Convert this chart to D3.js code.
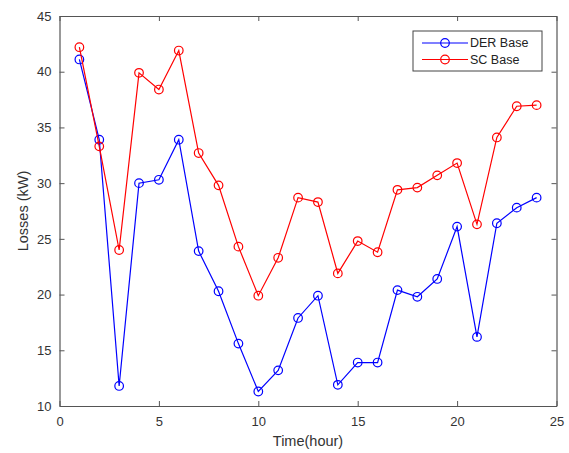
<!DOCTYPE html>
<html><head><meta charset="utf-8">
<script src="https://cdn.jsdelivr.net/npm/d3@7"></script>
<style>body{margin:0;background:#fff}svg{display:block}text{font-family:"Liberation Sans",Arial,sans-serif}</style>
</head><body>
<script>
const hours = d3.range(1, 25);
const derBase = [41.1,33.9,11.8,30.0,30.3,33.9,23.9,20.3,15.6,11.3,13.2,17.9,19.9,11.9,13.9,13.9,20.4,19.8,21.4,26.1,16.2,26.4,27.8,28.7];
const scBase  = [42.2,33.3,24.0,39.9,38.4,41.9,32.7,29.8,24.3,19.9,23.3,28.7,28.3,21.9,24.8,23.8,29.4,29.6,30.7,31.8,26.3,34.1,36.9,37.0];
const xTicks = [0,5,10,15,20,25];
const yTicks = [10,15,20,25,30,35,40,45];
const seriesNames = ["DER Base","SC Base"];
const seriesColors = ["#0000ff","#ff0000"];

const W = 569, H = 453;
const m = {l:59.5, r:12.5, t:16, b:47};
const svg = d3.select("body").append("svg").attr("width",W).attr("height",H);
const x = d3.scaleLinear().domain([0,25]).range([m.l, W-m.r]);
const y = d3.scaleLinear().domain([10,45]).range([H-m.b, m.t]);
const axisCol = "#555";

const g = svg.append("g");
const ax = (gen) => gen.tickSizeInner(-5).tickSizeOuter(0).tickPadding(8);
const axBottom = g.append("g").attr("transform",`translate(0,${y(10)})`).call(ax(d3.axisBottom(x).tickValues(xTicks)));
const axLeft = g.append("g").attr("transform",`translate(${x(0)},0)`).call(ax(d3.axisLeft(y).tickValues(yTicks)));
const axTop = g.append("g").attr("transform",`translate(0,${y(45)})`).call(ax(d3.axisTop(x).tickValues(xTicks)).tickFormat(""));
const axRight = g.append("g").attr("transform",`translate(${x(25)},0)`).call(ax(d3.axisRight(y).tickValues(yTicks)).tickFormat(""));
[axBottom,axLeft,axTop,axRight].forEach(a=>{
  a.select(".domain").attr("stroke",axisCol).attr("stroke-width",1.2);
  a.selectAll(".tick line").attr("stroke",axisCol);
  a.selectAll(".tick text").attr("fill","#333").style("font-size","13px");
});
axBottom.selectAll(".tick text").attr("dy","0.9em");

svg.append("text").attr("x",(x(0)+x(25))/2).attr("y",446).attr("text-anchor","middle")
  .attr("fill","#333").style("font-size","14.5px").text("Time(hour)");
svg.append("text").attr("transform",`translate(28,${(y(10)+y(45))/2}) rotate(-90)`).attr("text-anchor","middle")
  .attr("fill","#333").style("font-size","14.5px").text("Losses (kW)");

const data = [derBase, scBase];
const line = d3.line().x((d,i)=>x(hours[i])).y(d=>y(d));
data.forEach((vals,k)=>{
  svg.append("path").datum(vals).attr("d",line).attr("fill","none")
    .attr("stroke",seriesColors[k]).attr("stroke-width",1.2);
  svg.append("g").selectAll("circle").data(vals).join("circle")
    .attr("cx",(d,i)=>x(hours[i])).attr("cy",d=>y(d)).attr("r",4.3)
    .attr("fill","none").attr("stroke",seriesColors[k]).attr("stroke-width",1.2);
});

const lg = svg.append("g").attr("transform","translate(413,31)");
lg.append("rect").attr("width",129).attr("height",40).attr("fill","#fff").attr("stroke","#444").attr("stroke-width",1);
seriesNames.forEach((n,k)=>{
  const yy = 12 + k*16.5;
  lg.append("line").attr("x1",9).attr("x2",55).attr("y1",yy).attr("y2",yy).attr("stroke",seriesColors[k]).attr("stroke-width",1.2);
  lg.append("circle").attr("cx",32).attr("cy",yy).attr("r",4.3).attr("fill","none").attr("stroke",seriesColors[k]).attr("stroke-width",1.2);
  lg.append("text").attr("x",57).attr("y",yy).attr("dy","0.35em").attr("fill","#222").style("font-size","12.5px").text(n);
});
</script>
</body></html>
